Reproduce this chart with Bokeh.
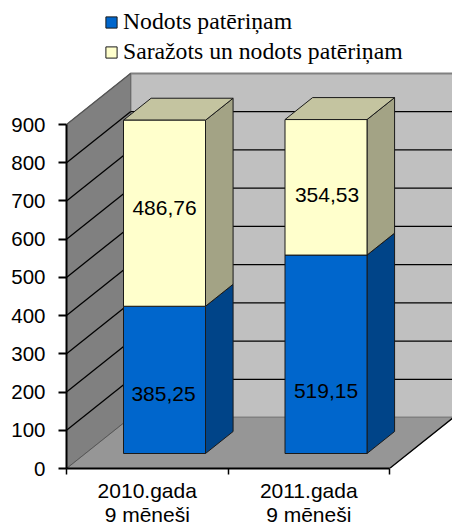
from bokeh.embed import file_html
from bokeh.resources import INLINE
from bokeh.plotting import figure
from bokeh.models import (ColumnDataSource, Range1d, FixedTicker, LinearAxis, Legend, LegendItem)
from bokeh.core.properties import value

categories = ["2010.gada\n9 mēneši", "2011.gada\n9 mēneši"]
delivered = [385.25, 519.15]
produced = [486.76, 354.53]
delivered_labels = ["385,25", "519,15"]
produced_labels = ["486,76", "354,53"]
series_names = ["Nodots patēriņam", "Saražots un nodots patēriņam"]
y_ticks = [0, 100, 200, 300, 400, 500, 600, 700, 800, 900]

W, H = 452, 527
LEFT, BOTTOM_PX = 66, 468
SLOT_PX = 161.5
PX_PER_VAL = 344 / 900
DEPTH_X = 64 / SLOT_PX
DEPTH_Y = 51 / PX_PER_VAL
Z0, Z1 = 0.294, 0.725
BAR_L, BAR_W = 0.2365, 0.5077
YMAX = 900


def pr(x, y, z):
    return x + z * DEPTH_X, y + z * DEPTH_Y


def poly(points):
    pts = [pr(*q) for q in points]
    return [a for a, _ in pts], [b for _, b in pts]


p = figure(width=W, height=H, output_backend="svg", toolbar_location=None,
           x_range=Range1d(0, (W - LEFT) / SLOT_PX),
           y_range=Range1d(0, BOTTOM_PX / PX_PER_VAL),
           x_axis_type=None, y_axis_type=None,
           min_border_left=LEFT, min_border_right=0, min_border_top=0,
           min_border_bottom=0,
           outline_line_color=None, background_fill_color=None,
           border_fill_color="white")
p.frame_height = BOTTOM_PX
p.frame_width = W - LEFT
p.grid.visible = False


def face(points, fill, line="#000000", width=1.0, alpha=1.0):
    xs, ys = poly(points)
    return p.patch(xs, ys, fill_color=fill, line_color=line, line_width=width, line_alpha=alpha)


# walls and floor
XEND = 2.0
face([(0, 0, 1), (XEND, 0, 1), (XEND, YMAX, 1), (0, YMAX, 1)], "#C0C0C0", "#808080", 2)
face([(0, 0, 0), (0, 0, 1), (0, YMAX, 1), (0, YMAX, 0)], "#808080", "#6a6a6a", 1)
for t in y_ticks[1:-1]:
    xs, ys = poly([(0, t, 1), (XEND, t, 1)])
    p.line(xs, ys, line_color="#000000", line_width=1.3)
for t in y_ticks[1:]:
    xs, ys = poly([(0, t, 0), (0, t, 1)])
    p.line(xs, ys, line_color="#000000" if t < 900 else "#555555", line_width=1.3)
face([(0, 0, 0), (XEND, 0, 0), (XEND, 0, 1), (0, 0, 1)], "#969696", "#808080", 1)
xs, ys = poly([(XEND, 0, 0), (XEND, 0, 1)])
p.line(xs, ys, line_color="#000000", line_width=1.3)
xs, ys = poly([(0, 0, 0), (0, 0, 1)])
p.line(xs, ys, line_color="#555555", line_width=1.0)

EDGE = "#1a1a1a"
fronts = [[], []]
for i in range(len(categories)):
    l, r = i + BAR_L, i + BAR_L + BAR_W
    a = delivered[i]
    b = a + produced[i]
    # right sides
    face([(r, 0, Z0), (r, 0, Z1), (r, a, Z1), (r, a, Z0)], "#004488", EDGE)
    face([(r, a, Z0), (r, a, Z1), (r, b, Z1), (r, b, Z0)], "#A3A385", EDGE)
    # top
    face([(l, b, Z0), (r, b, Z0), (r, b, Z1), (l, b, Z1)], "#C4C4A0", EDGE)
    # fronts
    fronts[0].append(face([(l, 0, Z0), (r, 0, Z0), (r, a, Z0), (l, a, Z0)], "#0066CC", EDGE))
    fronts[1].append(face([(l, a, Z0), (r, a, Z0), (r, b, Z0), (l, b, Z0)], "#FFFFCC", EDGE))

# data labels
cx = [i + BAR_L + BAR_W / 2 for i in range(2)]
lab = ColumnDataSource(dict(
    x=[pr(c, 0, Z0)[0] for c in cx] * 2,
    y=[pr(0, delivered[0] / 2, Z0)[1], pr(0, delivered[1] / 2, Z0)[1],
       pr(0, delivered[0] + produced[0] / 2, Z0)[1], pr(0, delivered[1] + produced[1] / 2, Z0)[1]],
    t=delivered_labels + produced_labels,
    dx=[-1, 0, 0, 1],
    dy=[14, 37, -5, 8],
))
p.text("x", "y", "t", source=lab, x_offset="dx", y_offset="dy", text_align="center",
       text_baseline="middle", text_font=value("Liberation Sans"), text_font_size="21px",
       text_color="#000000")

# axes
yax = LinearAxis(ticker=FixedTicker(ticks=y_ticks), bounds=(0, YMAX))
yax.axis_line_color = "#000000"
yax.axis_line_width = 2
yax.major_tick_line_color = "#000000"
yax.major_tick_line_width = 2
yax.major_tick_out = 8
yax.major_tick_in = 0
yax.minor_tick_out = 0
yax.major_label_text_font = "Liberation Sans"
yax.major_label_text_font_size = "20.5px"
yax.major_label_text_color = "#000000"
yax.major_label_standoff = 13
p.add_layout(yax, "left")

xax = LinearAxis(ticker=FixedTicker(ticks=[0.5, 1.5], minor_ticks=[0, 1, 2]), bounds=(0, 2))
xax.major_label_overrides = {0.5: categories[0], 1.5: categories[1]}
xax.axis_line_color = "#000000"
xax.axis_line_width = 2
xax.major_tick_line_color = None
xax.major_tick_out = 0
xax.major_tick_in = 0
xax.minor_tick_line_color = "#000000"
xax.minor_tick_line_width = 1.5
xax.minor_tick_out = 6
xax.minor_tick_in = 0
xax.major_label_text_font = "Liberation Sans"
xax.major_label_text_font_size = "21px"
xax.major_label_text_color = "#000000"
xax.major_label_standoff = 4
xax.major_label_text_line_height = 1.05
p.add_layout(xax, "below")

legend = Legend(items=[LegendItem(label=series_names[0], renderers=[fronts[0][0]]),
                       LegendItem(label=series_names[1], renderers=[fronts[1][0]])],
                location=(38, BOTTOM_PX - 65),
                orientation="vertical", background_fill_alpha=0, border_line_color=None,
                label_text_font="Liberation Serif", label_text_font_size="23.7px",
                label_text_color="#000000", glyph_width=14, glyph_height=14,
                label_standoff=5, spacing=3, padding=2, margin=0)
p.add_layout(legend, "center")

open("out.html", "w").write(file_html(p, INLINE))
